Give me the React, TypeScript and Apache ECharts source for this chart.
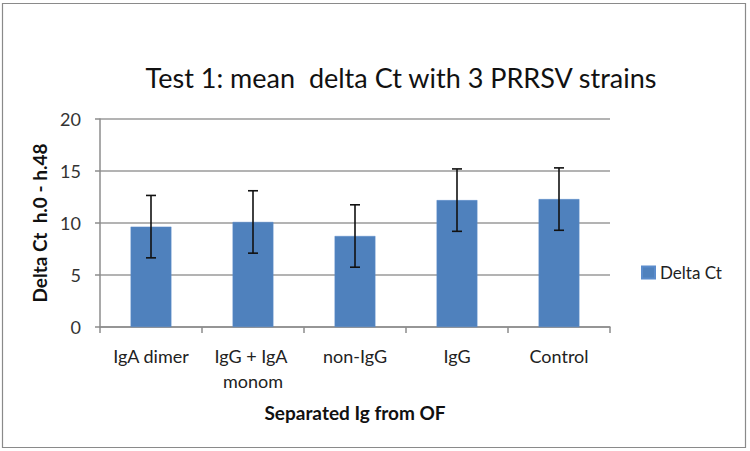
import React, { useEffect, useRef } from "react";
import * as echarts from "echarts";

const categories = ["IgA dimer", "IgG + IgA monom", "non-IgG", "IgG", "Control"];
const meanValues = [9.65, 10.1, 8.75, 12.2, 12.3];
const errorValues = [3.0, 3.0, 3.0, 3.0, 3.0];
const yTicks = [0, 5, 10, 15, 20];

const FONT = "Lato, 'Open Sans', sans-serif";

export default function App() {
  const ref = useRef<HTMLDivElement>(null);
  useEffect(() => {
    document.body.style.margin = "0";
    if (!ref.current) return;
    const chart = echarts.init(ref.current, undefined, { renderer: "svg" });
    const errData = meanValues.map((v, i) => [i, v - errorValues[i], v + errorValues[i]]);
    chart.setOption({
      animation: false,
      backgroundColor: "#ffffff",
      textStyle: { fontFamily: FONT },
      graphic: [
        {
          type: "rect",
          shape: { x: 2.5, y: 3.5, width: 743, height: 444 },
          style: { fill: "none", stroke: "#8a8a8a", lineWidth: 1.2 },
          silent: true,
        },
      ],
      title: {
        text: "Test 1: mean  delta Ct with 3 PRRSV strains",
        left: 396,
        top: 59,
        textAlign: "center",
        textStyle: { fontFamily: FONT, fontSize: 27, fontWeight: "normal", color: "#111" },
      },
      legend: {
        data: ["Delta Ct"],
        left: 636,
        top: 259,
        itemWidth: 13,
        itemHeight: 12,
        icon: "rect",
        textStyle: { fontFamily: FONT, fontSize: 17, color: "#222" },
      },
      grid: { left: 100, top: 119, right: 140, bottom: 124, containLabel: false },
      xAxis: {
        type: "category",
        data: categories,
        name: "Separated Ig from OF",
        nameLocation: "middle",
        nameGap: 76,
        nameTextStyle: { fontFamily: FONT, fontSize: 19, fontWeight: "bold", color: "#111" },
        axisLine: { lineStyle: { color: "#8c8c8c", width: 1.5 } },
        axisTick: { show: true, alignWithLabel: false, length: 6, lineStyle: { color: "#8c8c8c", width: 1.5 } },
        axisLabel: {
          fontFamily: FONT,
          fontSize: 18,
          color: "#222",
          margin: 16,
          width: 92,
          overflow: "break",
          lineHeight: 25,
          interval: 0,
        },
      },
      yAxis: {
        type: "value",
        min: 0,
        max: 20,
        interval: 5,
        name: "Delta Ct  h.0 - h.48",
        nameLocation: "middle",
        nameGap: 45,
        nameRotate: 90,
        nameTextStyle: { fontFamily: FONT, fontSize: 19, fontWeight: "bold", color: "#111" },
        axisLine: { show: true, lineStyle: { color: "#8c8c8c", width: 1.5 } },
        axisTick: { show: true, length: 5, lineStyle: { color: "#8c8c8c", width: 1.5 } },
        axisLabel: {
          fontFamily: FONT,
          fontSize: 18,
          color: "#333",
          margin: 19,
          formatter: (v: number) => (yTicks.includes(v) ? String(v) : ""),
        },
        splitLine: { lineStyle: { color: "#9a9a9a", width: 1.5 } },
      },
      series: [
        {
          name: "Delta Ct",
          type: "bar",
          data: meanValues,
          barWidth: "40%",
          itemStyle: { color: "#4f81bd", borderColor: "#5b8ccc", borderWidth: 0.5 },
        },
        {
          name: "error",
          type: "custom",
          data: errData,
          z: 10,
          renderItem: (params: any, api: any) => {
            const x = api.value(0);
            const lo = api.coord([x, api.value(1)]);
            const hi = api.coord([x, api.value(2)]);
            const cap = 5;
            const style = { stroke: "#111", lineWidth: 1.6 };
            return {
              type: "group",
              children: [
                { type: "line", shape: { x1: lo[0], y1: lo[1], x2: hi[0], y2: hi[1] }, style },
                { type: "line", shape: { x1: lo[0] - cap, y1: lo[1], x2: lo[0] + cap, y2: lo[1] }, style },
                { type: "line", shape: { x1: hi[0] - cap, y1: hi[1], x2: hi[0] + cap, y2: hi[1] }, style },
              ],
            };
          },
        },
      ],
    });
    return () => chart.dispose();
  }, []);
  return <div ref={ref} style={{ width: 750, height: 451 }} />;
}
